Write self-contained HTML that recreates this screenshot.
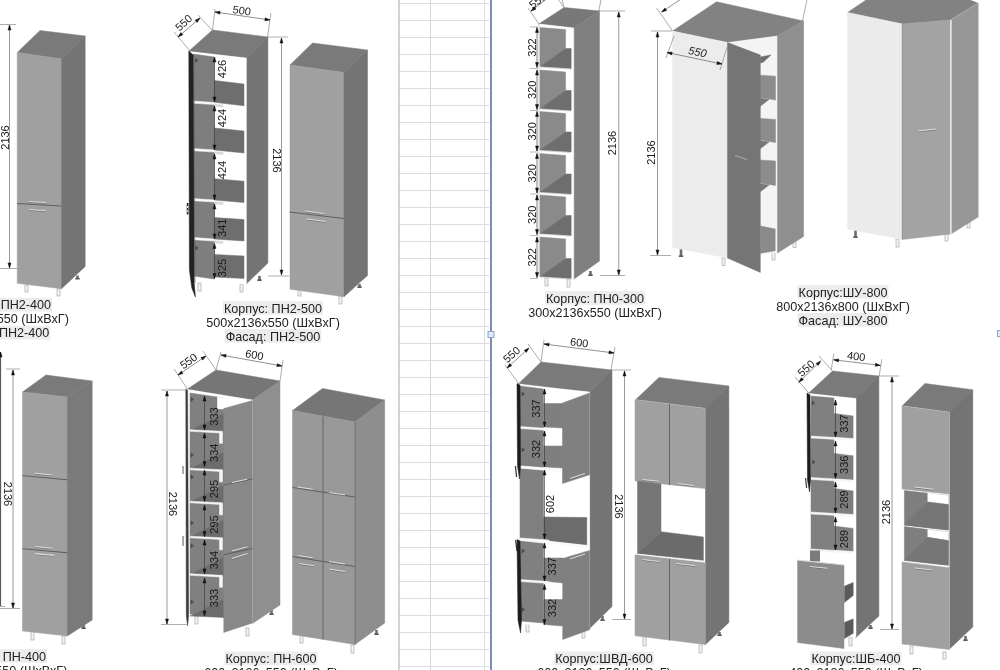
<!DOCTYPE html>
<html lang="ru"><head><meta charset="utf-8"><title>Каталог</title>
<style>
html,body{margin:0;padding:0;background:#fff;}
body{width:1000px;height:670px;overflow:hidden;}
svg{display:block;font-family:"Liberation Sans",sans-serif;filter:blur(0.45px);}
</style></head><body>
<svg width="1000" height="670" viewBox="0 0 1000 670">
<rect x="0" y="0" width="1000" height="670" fill="#ffffff"/>
<line x1="399.00" y1="3.50" x2="489.50" y2="3.50" stroke="#d2d2da" stroke-width="0.80" />
<line x1="399.00" y1="20.50" x2="489.50" y2="20.50" stroke="#d2d2da" stroke-width="0.80" />
<line x1="399.00" y1="37.50" x2="489.50" y2="37.50" stroke="#d2d2da" stroke-width="0.80" />
<line x1="399.00" y1="54.50" x2="489.50" y2="54.50" stroke="#d2d2da" stroke-width="0.80" />
<line x1="399.00" y1="71.50" x2="489.50" y2="71.50" stroke="#d2d2da" stroke-width="0.80" />
<line x1="399.00" y1="88.50" x2="489.50" y2="88.50" stroke="#d2d2da" stroke-width="0.80" />
<line x1="399.00" y1="105.50" x2="489.50" y2="105.50" stroke="#d2d2da" stroke-width="0.80" />
<line x1="399.00" y1="122.50" x2="489.50" y2="122.50" stroke="#d2d2da" stroke-width="0.80" />
<line x1="399.00" y1="139.50" x2="489.50" y2="139.50" stroke="#d2d2da" stroke-width="0.80" />
<line x1="399.00" y1="156.50" x2="489.50" y2="156.50" stroke="#d2d2da" stroke-width="0.80" />
<line x1="399.00" y1="173.50" x2="489.50" y2="173.50" stroke="#d2d2da" stroke-width="0.80" />
<line x1="399.00" y1="190.50" x2="489.50" y2="190.50" stroke="#d2d2da" stroke-width="0.80" />
<line x1="399.00" y1="207.50" x2="489.50" y2="207.50" stroke="#d2d2da" stroke-width="0.80" />
<line x1="399.00" y1="224.50" x2="489.50" y2="224.50" stroke="#d2d2da" stroke-width="0.80" />
<line x1="399.00" y1="241.50" x2="489.50" y2="241.50" stroke="#d2d2da" stroke-width="0.80" />
<line x1="399.00" y1="258.50" x2="489.50" y2="258.50" stroke="#d2d2da" stroke-width="0.80" />
<line x1="399.00" y1="275.50" x2="489.50" y2="275.50" stroke="#d2d2da" stroke-width="0.80" />
<line x1="399.00" y1="292.50" x2="489.50" y2="292.50" stroke="#d2d2da" stroke-width="0.80" />
<line x1="399.00" y1="309.50" x2="489.50" y2="309.50" stroke="#d2d2da" stroke-width="0.80" />
<line x1="399.00" y1="326.50" x2="489.50" y2="326.50" stroke="#d2d2da" stroke-width="0.80" />
<line x1="399.00" y1="343.50" x2="489.50" y2="343.50" stroke="#d2d2da" stroke-width="0.80" />
<line x1="399.00" y1="360.50" x2="489.50" y2="360.50" stroke="#d2d2da" stroke-width="0.80" />
<line x1="399.00" y1="377.50" x2="489.50" y2="377.50" stroke="#d2d2da" stroke-width="0.80" />
<line x1="399.00" y1="394.50" x2="489.50" y2="394.50" stroke="#d2d2da" stroke-width="0.80" />
<line x1="399.00" y1="411.50" x2="489.50" y2="411.50" stroke="#d2d2da" stroke-width="0.80" />
<line x1="399.00" y1="428.50" x2="489.50" y2="428.50" stroke="#d2d2da" stroke-width="0.80" />
<line x1="399.00" y1="445.50" x2="489.50" y2="445.50" stroke="#d2d2da" stroke-width="0.80" />
<line x1="399.00" y1="462.50" x2="489.50" y2="462.50" stroke="#d2d2da" stroke-width="0.80" />
<line x1="399.00" y1="479.50" x2="489.50" y2="479.50" stroke="#d2d2da" stroke-width="0.80" />
<line x1="399.00" y1="496.50" x2="489.50" y2="496.50" stroke="#d2d2da" stroke-width="0.80" />
<line x1="399.00" y1="513.50" x2="489.50" y2="513.50" stroke="#d2d2da" stroke-width="0.80" />
<line x1="399.00" y1="530.50" x2="489.50" y2="530.50" stroke="#d2d2da" stroke-width="0.80" />
<line x1="399.00" y1="547.50" x2="489.50" y2="547.50" stroke="#d2d2da" stroke-width="0.80" />
<line x1="399.00" y1="564.50" x2="489.50" y2="564.50" stroke="#d2d2da" stroke-width="0.80" />
<line x1="399.00" y1="581.50" x2="489.50" y2="581.50" stroke="#d2d2da" stroke-width="0.80" />
<line x1="399.00" y1="598.50" x2="489.50" y2="598.50" stroke="#d2d2da" stroke-width="0.80" />
<line x1="399.00" y1="615.50" x2="489.50" y2="615.50" stroke="#d2d2da" stroke-width="0.80" />
<line x1="399.00" y1="632.50" x2="489.50" y2="632.50" stroke="#d2d2da" stroke-width="0.80" />
<line x1="399.00" y1="649.50" x2="489.50" y2="649.50" stroke="#d2d2da" stroke-width="0.80" />
<line x1="399.00" y1="666.50" x2="489.50" y2="666.50" stroke="#d2d2da" stroke-width="0.80" />
<line x1="430.50" y1="0.00" x2="430.50" y2="670.00" stroke="#d6d6de" stroke-width="1.00" />
<line x1="484.50" y1="0.00" x2="484.50" y2="670.00" stroke="#dcdce4" stroke-width="1.00" />
<line x1="399.00" y1="0.00" x2="399.00" y2="670.00" stroke="#b0b0b0" stroke-width="1.10" />
<line x1="491.00" y1="0.00" x2="491.00" y2="670.00" stroke="#6e82ab" stroke-width="1.80" />
<rect x="488.00" y="331.50" width="6.00" height="6.00" fill="#dcecfa" stroke="#8aa4c8" stroke-width="1"/>
<rect x="997.50" y="330.50" width="6.00" height="6.00" fill="#dcecfa" stroke="#8aa4c8" stroke-width="1"/>
<rect x="76.20" y="275.50" width="2.60" height="3.00" fill="#6e6e6e" />
<rect x="75.30" y="277.90" width="4.40" height="1.60" fill="#5a5a5a" />
<rect x="25.00" y="285.00" width="3.00" height="7.00" fill="#f4f4f4" stroke="#9a9a9a" stroke-width="0.6"/>
<rect x="57.00" y="289.00" width="3.00" height="7.00" fill="#f4f4f4" stroke="#9a9a9a" stroke-width="0.6"/>
<polygon points="17.20,52.50 40.00,30.50 85.20,36.00 61.50,59.00" fill="#7a7a7a"  stroke="#7a7a7a" stroke-width="0.5"/>
<polygon points="17.20,52.50 61.50,59.00 61.50,288.70 17.20,283.30" fill="#a0a0a0"  stroke="#a0a0a0" stroke-width="0.5"/>
<polygon points="61.50,59.00 85.20,36.00 85.20,266.50 61.50,288.70" fill="#737473"  stroke="#737473" stroke-width="0.5"/>
<line x1="17.00" y1="203.50" x2="61.00" y2="206.00" stroke="#5e5e5e" stroke-width="1.00" />
<line x1="29.00" y1="202.30" x2="46.00" y2="203.30" stroke="#6a6a6a" stroke-width="0.80" />
<line x1="29.00" y1="201.50" x2="46.00" y2="202.50" stroke="#dcdcdc" stroke-width="1.10" />
<line x1="29.00" y1="210.30" x2="46.00" y2="211.60" stroke="#6a6a6a" stroke-width="0.80" />
<line x1="29.00" y1="209.50" x2="46.00" y2="210.80" stroke="#dcdcdc" stroke-width="1.10" />
<line x1="0.00" y1="24.50" x2="16.00" y2="24.50" stroke="#8a8a8a" stroke-width="0.70" />
<line x1="0.00" y1="268.50" x2="17.00" y2="268.50" stroke="#8a8a8a" stroke-width="0.70" />
<line x1="9.50" y1="25.00" x2="9.50" y2="268.00" stroke="#8e8e8e" stroke-width="0.90" />
<polygon points="9.50,268.00 8.00,263.00 11.00,263.00" fill="#111"  stroke="#111" stroke-width="0.5"/>
<polygon points="9.50,25.00 11.00,30.00 8.00,30.00" fill="#111"  stroke="#111" stroke-width="0.5"/>
<text x="8.94" y="137.50" font-size="11" text-anchor="middle" fill="#1a1a1a" transform="rotate(-90.0 8.94 137.50)" >2136</text>
<rect x="198.00" y="283.00" width="3.00" height="8.00" fill="#f4f4f4" stroke="#9a9a9a" stroke-width="0.6"/>
<rect x="240.00" y="284.00" width="3.00" height="8.00" fill="#f4f4f4" stroke="#9a9a9a" stroke-width="0.6"/>
<rect x="258.20" y="276.00" width="2.60" height="4.00" fill="#6e6e6e" />
<rect x="257.30" y="279.40" width="4.40" height="1.60" fill="#5a5a5a" />
<polygon points="189.00,51.00 212.50,30.00 267.90,37.00 246.30,58.00" fill="#7a7a7a"  stroke="#7a7a7a" stroke-width="0.5"/>
<polygon points="246.30,58.00 267.90,37.00 267.90,263.00 246.30,284.00" fill="#737473"  stroke="#737473" stroke-width="0.5"/>
<polygon points="191.00,52.00 246.30,58.00 246.30,284.00 191.00,280.00" fill="#ffffff"  stroke="#ffffff" stroke-width="0.5"/>
<polygon points="193.00,54.00 214.30,57.00 214.30,279.00 193.00,276.00" fill="#7e7e7e"  stroke="#7e7e7e" stroke-width="0.5"/>
<polygon points="214.30,80.50 244.00,84.00 244.00,105.80 214.30,102.30" fill="#6e6e6e"  stroke="#6e6e6e" stroke-width="0.5"/>
<polygon points="214.30,128.00 244.00,131.00 244.00,153.00 214.30,150.00" fill="#6e6e6e"  stroke="#6e6e6e" stroke-width="0.5"/>
<polygon points="214.30,178.70 244.00,181.20 244.00,202.50 214.30,200.00" fill="#6e6e6e"  stroke="#6e6e6e" stroke-width="0.5"/>
<polygon points="214.30,217.50 244.00,219.50 244.00,241.00 214.30,239.00" fill="#6e6e6e"  stroke="#6e6e6e" stroke-width="0.5"/>
<polygon points="214.30,254.50 244.00,256.00 244.00,278.50 214.30,277.00" fill="#6e6e6e"  stroke="#6e6e6e" stroke-width="0.5"/>
<polygon points="193.00,101.00 214.50,102.50 214.50,104.60 193.00,103.20" fill="#fafafa"  stroke="#fafafa" stroke-width="0.5"/>
<polygon points="215.00,104.20 223.00,104.80 223.00,107.00 215.00,106.40" fill="#d8d8d8"  stroke="#d8d8d8" stroke-width="0.5"/>
<polygon points="193.00,148.50 214.50,150.00 214.50,152.10 193.00,150.70" fill="#fafafa"  stroke="#fafafa" stroke-width="0.5"/>
<polygon points="215.00,151.70 223.00,152.30 223.00,154.50 215.00,153.90" fill="#d8d8d8"  stroke="#d8d8d8" stroke-width="0.5"/>
<polygon points="193.00,198.50 214.50,200.00 214.50,202.10 193.00,200.70" fill="#fafafa"  stroke="#fafafa" stroke-width="0.5"/>
<polygon points="215.00,201.70 223.00,202.30 223.00,204.50 215.00,203.90" fill="#d8d8d8"  stroke="#d8d8d8" stroke-width="0.5"/>
<polygon points="193.00,237.50 214.50,239.00 214.50,241.10 193.00,239.70" fill="#fafafa"  stroke="#fafafa" stroke-width="0.5"/>
<polygon points="215.00,240.70 223.00,241.30 223.00,243.50 215.00,242.90" fill="#d8d8d8"  stroke="#d8d8d8" stroke-width="0.5"/>
<polygon points="188.80,51.00 193.20,55.00 194.20,283.00 195.40,297.00 191.80,288.00 189.40,270.00" fill="#222222"  stroke="#222222" stroke-width="0.5"/>
<line x1="194.00" y1="56.00" x2="194.90" y2="283.00" stroke="#6a6a6a" stroke-width="0.80" />
<line x1="214.50" y1="57.00" x2="214.50" y2="102.00" stroke="#3a3a3a" stroke-width="0.65" />
<polygon points="214.50,102.00 213.00,97.00 216.00,97.00" fill="#111"  stroke="#111" stroke-width="0.5"/>
<polygon points="214.50,57.00 216.00,62.00 213.00,62.00" fill="#111"  stroke="#111" stroke-width="0.5"/>
<text x="226.44" y="69.00" font-size="11" text-anchor="middle" fill="#1a1a1a" transform="rotate(-90.0 226.44 69.00)" >426</text>
<line x1="214.50" y1="106.00" x2="214.50" y2="150.00" stroke="#3a3a3a" stroke-width="0.65" />
<polygon points="214.50,150.00 213.00,145.00 216.00,145.00" fill="#111"  stroke="#111" stroke-width="0.5"/>
<polygon points="214.50,106.00 216.00,111.00 213.00,111.00" fill="#111"  stroke="#111" stroke-width="0.5"/>
<text x="226.44" y="118.00" font-size="11" text-anchor="middle" fill="#1a1a1a" transform="rotate(-90.0 226.44 118.00)" >424</text>
<line x1="214.50" y1="154.00" x2="214.50" y2="200.00" stroke="#3a3a3a" stroke-width="0.65" />
<polygon points="214.50,200.00 213.00,195.00 216.00,195.00" fill="#111"  stroke="#111" stroke-width="0.5"/>
<polygon points="214.50,154.00 216.00,159.00 213.00,159.00" fill="#111"  stroke="#111" stroke-width="0.5"/>
<text x="226.44" y="170.00" font-size="11" text-anchor="middle" fill="#1a1a1a" transform="rotate(-90.0 226.44 170.00)" >424</text>
<line x1="214.50" y1="204.00" x2="214.50" y2="239.00" stroke="#3a3a3a" stroke-width="0.65" />
<polygon points="214.50,239.00 213.00,234.00 216.00,234.00" fill="#111"  stroke="#111" stroke-width="0.5"/>
<polygon points="214.50,204.00 216.00,209.00 213.00,209.00" fill="#111"  stroke="#111" stroke-width="0.5"/>
<text x="226.44" y="227.70" font-size="11" text-anchor="middle" fill="#1a1a1a" transform="rotate(-90.0 226.44 227.70)" >341</text>
<line x1="214.50" y1="243.50" x2="214.50" y2="278.50" stroke="#3a3a3a" stroke-width="0.65" />
<polygon points="214.50,278.50 213.00,273.50 216.00,273.50" fill="#111"  stroke="#111" stroke-width="0.5"/>
<polygon points="214.50,243.50 216.00,248.50 213.00,248.50" fill="#111"  stroke="#111" stroke-width="0.5"/>
<text x="226.44" y="268.00" font-size="11" text-anchor="middle" fill="#1a1a1a" transform="rotate(-90.0 226.44 268.00)" >325</text>
<polygon points="195.50,58.42 198.10,60.50 195.50,62.58" fill="#4a4a4a"  stroke="#4a4a4a" stroke-width="0.5"/>
<polygon points="195.50,245.92 198.10,248.00 195.50,250.08" fill="#4a4a4a"  stroke="#4a4a4a" stroke-width="0.5"/>
<line x1="187.60" y1="203.00" x2="187.60" y2="214.50" stroke="#2a2a2a" stroke-width="1.70" />
<line x1="187.60" y1="206.00" x2="187.60" y2="208.00" stroke="#eee" stroke-width="1.20" />
<line x1="187.60" y1="210.50" x2="187.60" y2="212.00" stroke="#eee" stroke-width="1.20" />
<line x1="268.00" y1="37.00" x2="288.00" y2="37.00" stroke="#8a8a8a" stroke-width="0.70" />
<line x1="268.00" y1="276.00" x2="289.00" y2="276.00" stroke="#8a8a8a" stroke-width="0.70" />
<line x1="281.50" y1="38.00" x2="281.50" y2="275.00" stroke="#8e8e8e" stroke-width="0.90" />
<polygon points="281.50,275.00 280.00,270.00 283.00,270.00" fill="#111"  stroke="#111" stroke-width="0.5"/>
<polygon points="281.50,38.00 283.00,43.00 280.00,43.00" fill="#111"  stroke="#111" stroke-width="0.5"/>
<text x="273.06" y="160.50" font-size="11" text-anchor="middle" fill="#1a1a1a" transform="rotate(90.0 273.06 160.50)" >2136</text>
<line x1="174.00" y1="32.00" x2="190.00" y2="51.00" stroke="#8a8a8a" stroke-width="0.70" />
<line x1="198.00" y1="15.00" x2="212.00" y2="30.00" stroke="#8a8a8a" stroke-width="0.70" />
<line x1="178.00" y1="37.00" x2="200.00" y2="18.00" stroke="#606060" stroke-width="0.70" />
<polygon points="200.00,18.00 197.20,22.40 195.24,20.13" fill="#111"  stroke="#111" stroke-width="0.5"/>
<polygon points="178.00,37.00 180.80,32.60 182.76,34.87" fill="#111"  stroke="#111" stroke-width="0.5"/>
<text x="186.34" y="25.63" font-size="11" text-anchor="middle" fill="#1a1a1a" transform="rotate(-42.0 186.34 25.63)" >550</text>
<line x1="212.50" y1="30.00" x2="215.00" y2="9.00" stroke="#8a8a8a" stroke-width="0.70" />
<line x1="267.50" y1="37.00" x2="271.00" y2="13.00" stroke="#8a8a8a" stroke-width="0.70" />
<line x1="215.00" y1="12.00" x2="270.00" y2="20.00" stroke="#606060" stroke-width="0.70" />
<polygon points="270.00,20.00 264.84,20.76 265.27,17.80" fill="#111"  stroke="#111" stroke-width="0.5"/>
<polygon points="215.00,12.00 220.16,11.24 219.73,14.20" fill="#111"  stroke="#111" stroke-width="0.5"/>
<text x="241.35" y="14.40" font-size="11" text-anchor="middle" fill="#1a1a1a" transform="rotate(8.0 241.35 14.40)" >500</text>
<rect x="298.00" y="288.00" width="3.00" height="8.00" fill="#f4f4f4" stroke="#9a9a9a" stroke-width="0.6"/>
<rect x="339.00" y="296.00" width="3.00" height="8.00" fill="#f4f4f4" stroke="#9a9a9a" stroke-width="0.6"/>
<rect x="358.20" y="284.00" width="2.60" height="3.00" fill="#6e6e6e" />
<rect x="357.30" y="286.40" width="4.40" height="1.60" fill="#5a5a5a" />
<polygon points="290.00,65.00 312.50,43.00 367.50,50.00 344.00,72.50" fill="#7a7a7a"  stroke="#7a7a7a" stroke-width="0.5"/>
<polygon points="290.00,65.00 344.00,72.50 344.00,296.80 290.00,289.20" fill="#a0a0a0"  stroke="#a0a0a0" stroke-width="0.5"/>
<polygon points="344.00,72.50 367.50,50.00 367.50,275.50 344.00,296.80" fill="#737473"  stroke="#737473" stroke-width="0.5"/>
<line x1="289.50" y1="212.00" x2="343.75" y2="218.50" stroke="#5e5e5e" stroke-width="1.00" />
<line x1="305.00" y1="211.80" x2="324.00" y2="214.30" stroke="#6a6a6a" stroke-width="0.80" />
<line x1="305.00" y1="211.00" x2="324.00" y2="213.50" stroke="#dcdcdc" stroke-width="1.10" />
<line x1="307.00" y1="219.80" x2="326.00" y2="222.30" stroke="#6a6a6a" stroke-width="0.80" />
<line x1="307.00" y1="219.00" x2="326.00" y2="221.50" stroke="#dcdcdc" stroke-width="1.10" />
<rect x="-48.01" y="297.90" width="100.01" height="13.60" fill="#ececec" />
<rect x="-46.31" y="325.90" width="96.62" height="13.60" fill="#ececec" />
<text x="2.00" y="309.30" font-size="12.6" text-anchor="middle" fill="#222" >Корпус: ПН2-400</text>
<text x="2.00" y="323.30" font-size="12.6" text-anchor="middle" fill="#222" >400x2136x550 (ШхВхГ)</text>
<text x="2.00" y="337.30" font-size="12.6" text-anchor="middle" fill="#222" >Фасад: ПН2-400</text>
<rect x="222.99" y="301.10" width="100.01" height="13.60" fill="#ececec" />
<rect x="224.69" y="329.10" width="96.62" height="13.60" fill="#ececec" />
<text x="273.00" y="312.50" font-size="12.6" text-anchor="middle" fill="#222" >Корпус: ПН2-500</text>
<text x="273.00" y="326.50" font-size="12.6" text-anchor="middle" fill="#222" >500x2136x550 (ШхВхГ)</text>
<text x="273.00" y="340.50" font-size="12.6" text-anchor="middle" fill="#222" >Фасад: ПН2-500</text>
<rect x="545.00" y="278.00" width="3.00" height="8.00" fill="#f4f4f4" stroke="#9a9a9a" stroke-width="0.6"/>
<rect x="567.00" y="279.00" width="3.00" height="8.00" fill="#f4f4f4" stroke="#9a9a9a" stroke-width="0.6"/>
<rect x="589.20" y="271.00" width="2.60" height="4.00" fill="#6e6e6e" />
<rect x="588.30" y="274.40" width="4.40" height="1.60" fill="#5a5a5a" />
<polygon points="538.75,24.00 564.00,7.50 599.50,11.00 573.75,28.00" fill="#787878"  stroke="#787878" stroke-width="0.5"/>
<polygon points="573.75,28.00 599.50,11.00 599.50,261.00 573.75,279.20" fill="#808080"  stroke="#808080" stroke-width="0.5"/>
<polygon points="538.75,24.00 573.75,28.00 573.75,279.00 538.75,277.00" fill="#ffffff"  stroke="#ffffff" stroke-width="0.5"/>
<line x1="539.00" y1="24.00" x2="539.00" y2="277.00" stroke="#bbb" stroke-width="0.60" />
<polygon points="540.00,27.50 565.60,29.50 565.60,48.50 540.00,66.50" fill="#8a8a8a"  stroke="#8a8a8a" stroke-width="0.5"/>
<polygon points="540.00,66.50 565.60,48.50 571.20,48.50 571.20,68.50 540.00,66.50" fill="#6e6e6e"  stroke="#6e6e6e" stroke-width="0.5"/>
<line x1="540.00" y1="67.10" x2="571.00" y2="69.10" stroke="#c8c8c8" stroke-width="0.60" />
<polygon points="540.00,70.00 565.60,72.00 565.60,90.50 540.00,108.50" fill="#8a8a8a"  stroke="#8a8a8a" stroke-width="0.5"/>
<polygon points="540.00,108.50 565.60,90.50 571.20,90.50 571.20,110.50 540.00,108.50" fill="#6e6e6e"  stroke="#6e6e6e" stroke-width="0.5"/>
<line x1="540.00" y1="109.10" x2="571.00" y2="111.10" stroke="#c8c8c8" stroke-width="0.60" />
<polygon points="540.00,111.50 565.60,113.50 565.60,132.00 540.00,150.00" fill="#8a8a8a"  stroke="#8a8a8a" stroke-width="0.5"/>
<polygon points="540.00,150.00 565.60,132.00 571.20,132.00 571.20,152.00 540.00,150.00" fill="#6e6e6e"  stroke="#6e6e6e" stroke-width="0.5"/>
<line x1="540.00" y1="150.60" x2="571.00" y2="152.60" stroke="#c8c8c8" stroke-width="0.60" />
<polygon points="540.00,153.50 565.60,155.50 565.60,174.00 540.00,192.00" fill="#8a8a8a"  stroke="#8a8a8a" stroke-width="0.5"/>
<polygon points="540.00,192.00 565.60,174.00 571.20,174.00 571.20,194.00 540.00,192.00" fill="#6e6e6e"  stroke="#6e6e6e" stroke-width="0.5"/>
<line x1="540.00" y1="192.60" x2="571.00" y2="194.60" stroke="#c8c8c8" stroke-width="0.60" />
<polygon points="540.00,195.00 565.60,197.00 565.60,215.50 540.00,233.50" fill="#8a8a8a"  stroke="#8a8a8a" stroke-width="0.5"/>
<polygon points="540.00,233.50 565.60,215.50 571.20,215.50 571.20,235.50 540.00,233.50" fill="#6e6e6e"  stroke="#6e6e6e" stroke-width="0.5"/>
<line x1="540.00" y1="234.10" x2="571.00" y2="236.10" stroke="#c8c8c8" stroke-width="0.60" />
<polygon points="540.00,237.00 565.60,239.00 565.60,258.50 540.00,276.50" fill="#8a8a8a"  stroke="#8a8a8a" stroke-width="0.5"/>
<polygon points="540.00,276.50 565.60,258.50 571.20,258.50 571.20,278.50 540.00,276.50" fill="#6e6e6e"  stroke="#6e6e6e" stroke-width="0.5"/>
<line x1="540.00" y1="277.10" x2="571.00" y2="279.10" stroke="#c8c8c8" stroke-width="0.60" />
<line x1="573.50" y1="28.00" x2="573.50" y2="279.00" stroke="#ddd" stroke-width="0.60" />
<line x1="537.00" y1="27.50" x2="537.00" y2="67.50" stroke="#3a3a3a" stroke-width="0.65" />
<polygon points="537.00,67.50 535.50,62.50 538.50,62.50" fill="#111"  stroke="#111" stroke-width="0.5"/>
<polygon points="537.00,27.50 538.50,32.50 535.50,32.50" fill="#111"  stroke="#111" stroke-width="0.5"/>
<text x="535.84" y="47.50" font-size="11" text-anchor="middle" fill="#1a1a1a" transform="rotate(-90.0 535.84 47.50)" >322</text>
<line x1="530.00" y1="68.50" x2="538.00" y2="68.50" stroke="#777" stroke-width="0.50" />
<line x1="537.00" y1="70.00" x2="537.00" y2="109.50" stroke="#3a3a3a" stroke-width="0.65" />
<polygon points="537.00,109.50 535.50,104.50 538.50,104.50" fill="#111"  stroke="#111" stroke-width="0.5"/>
<polygon points="537.00,70.00 538.50,75.00 535.50,75.00" fill="#111"  stroke="#111" stroke-width="0.5"/>
<text x="535.84" y="89.75" font-size="11" text-anchor="middle" fill="#1a1a1a" transform="rotate(-90.0 535.84 89.75)" >320</text>
<line x1="530.00" y1="110.50" x2="538.00" y2="110.50" stroke="#777" stroke-width="0.50" />
<line x1="537.00" y1="111.50" x2="537.00" y2="151.00" stroke="#3a3a3a" stroke-width="0.65" />
<polygon points="537.00,151.00 535.50,146.00 538.50,146.00" fill="#111"  stroke="#111" stroke-width="0.5"/>
<polygon points="537.00,111.50 538.50,116.50 535.50,116.50" fill="#111"  stroke="#111" stroke-width="0.5"/>
<text x="535.84" y="131.25" font-size="11" text-anchor="middle" fill="#1a1a1a" transform="rotate(-90.0 535.84 131.25)" >320</text>
<line x1="530.00" y1="152.00" x2="538.00" y2="152.00" stroke="#777" stroke-width="0.50" />
<line x1="537.00" y1="153.50" x2="537.00" y2="193.00" stroke="#3a3a3a" stroke-width="0.65" />
<polygon points="537.00,193.00 535.50,188.00 538.50,188.00" fill="#111"  stroke="#111" stroke-width="0.5"/>
<polygon points="537.00,153.50 538.50,158.50 535.50,158.50" fill="#111"  stroke="#111" stroke-width="0.5"/>
<text x="535.84" y="173.25" font-size="11" text-anchor="middle" fill="#1a1a1a" transform="rotate(-90.0 535.84 173.25)" >320</text>
<line x1="530.00" y1="194.00" x2="538.00" y2="194.00" stroke="#777" stroke-width="0.50" />
<line x1="537.00" y1="195.00" x2="537.00" y2="234.50" stroke="#3a3a3a" stroke-width="0.65" />
<polygon points="537.00,234.50 535.50,229.50 538.50,229.50" fill="#111"  stroke="#111" stroke-width="0.5"/>
<polygon points="537.00,195.00 538.50,200.00 535.50,200.00" fill="#111"  stroke="#111" stroke-width="0.5"/>
<text x="535.84" y="214.75" font-size="11" text-anchor="middle" fill="#1a1a1a" transform="rotate(-90.0 535.84 214.75)" >320</text>
<line x1="530.00" y1="235.50" x2="538.00" y2="235.50" stroke="#777" stroke-width="0.50" />
<line x1="537.00" y1="237.00" x2="537.00" y2="277.50" stroke="#3a3a3a" stroke-width="0.65" />
<polygon points="537.00,277.50 535.50,272.50 538.50,272.50" fill="#111"  stroke="#111" stroke-width="0.5"/>
<polygon points="537.00,237.00 538.50,242.00 535.50,242.00" fill="#111"  stroke="#111" stroke-width="0.5"/>
<text x="535.84" y="257.25" font-size="11" text-anchor="middle" fill="#1a1a1a" transform="rotate(-90.0 535.84 257.25)" >322</text>
<line x1="530.00" y1="278.50" x2="538.00" y2="278.50" stroke="#777" stroke-width="0.50" />
<line x1="530.00" y1="27.00" x2="538.00" y2="27.00" stroke="#777" stroke-width="0.50" />
<line x1="598.00" y1="11.00" x2="625.00" y2="11.00" stroke="#8a8a8a" stroke-width="0.70" />
<line x1="600.00" y1="275.50" x2="625.00" y2="275.50" stroke="#8a8a8a" stroke-width="0.70" />
<line x1="618.75" y1="12.00" x2="618.75" y2="275.00" stroke="#8e8e8e" stroke-width="0.90" />
<polygon points="618.75,275.00 617.25,270.00 620.25,270.00" fill="#111"  stroke="#111" stroke-width="0.5"/>
<polygon points="618.75,12.00 620.25,17.00 617.25,17.00" fill="#111"  stroke="#111" stroke-width="0.5"/>
<text x="616.44" y="143.00" font-size="11" text-anchor="middle" fill="#1a1a1a" transform="rotate(-90.0 616.44 143.00)" >2136</text>
<line x1="528.00" y1="8.00" x2="539.00" y2="24.00" stroke="#8a8a8a" stroke-width="0.70" />
<line x1="553.00" y1="-8.00" x2="564.00" y2="7.50" stroke="#8a8a8a" stroke-width="0.70" />
<line x1="531.00" y1="11.00" x2="556.00" y2="-8.00" stroke="#606060" stroke-width="0.70" />
<polygon points="556.00,-8.00 552.93,-3.78 551.11,-6.17" fill="#111"  stroke="#111" stroke-width="0.5"/>
<polygon points="531.00,11.00 534.07,6.78 535.89,9.17" fill="#111"  stroke="#111" stroke-width="0.5"/>
<text x="539.92" y="3.60" font-size="11" text-anchor="middle" fill="#1a1a1a" transform="rotate(-38.0 539.92 3.60)" >550</text>
<line x1="564.00" y1="7.50" x2="560.00" y2="-10.00" stroke="#8a8a8a" stroke-width="0.70" />
<line x1="598.75" y1="11.00" x2="603.00" y2="-10.00" stroke="#8a8a8a" stroke-width="0.70" />
<rect x="544.99" y="291.10" width="100.01" height="13.60" fill="#ececec" />
<text x="595.00" y="302.50" font-size="12.6" text-anchor="middle" fill="#222" >Корпус: ПН0-300</text>
<text x="595.00" y="316.50" font-size="12.6" text-anchor="middle" fill="#222" >300x2136x550 (ШхВхГ)</text>
<rect x="679.70" y="249.00" width="2.60" height="7.00" fill="#6e6e6e" />
<rect x="678.80" y="255.40" width="4.40" height="1.60" fill="#5a5a5a" />
<rect x="722.00" y="258.00" width="3.00" height="7.50" fill="#f4f4f4" stroke="#9a9a9a" stroke-width="0.6"/>
<rect x="772.00" y="253.00" width="3.00" height="7.00" fill="#f4f4f4" stroke="#9a9a9a" stroke-width="0.6"/>
<rect x="793.00" y="241.00" width="3.00" height="6.50" fill="#f4f4f4" stroke="#9a9a9a" stroke-width="0.6"/>
<polygon points="672.50,31.00 716.60,1.80 803.60,21.00 777.50,36.00 730.00,42.50" fill="#828282"  stroke="#828282" stroke-width="0.5"/>
<polygon points="672.50,31.00 728.00,43.00 728.00,258.00 672.50,247.60" fill="#ececec"  stroke="#ececec" stroke-width="0.5"/>
<polygon points="728.00,42.50 777.50,36.00 777.50,252.90 728.00,258.00" fill="#f4f4f4"  stroke="#f4f4f4" stroke-width="0.5"/>
<polygon points="760.00,75.20 775.50,76.20 775.50,100.00 760.00,97.50" fill="#8c8c8c"  stroke="#8c8c8c" stroke-width="0.5"/>
<polygon points="760.00,98.30 769.00,99.50 760.00,106.50" fill="#787878"  stroke="#787878" stroke-width="0.5"/>
<polygon points="760.00,118.40 775.50,119.40 775.50,142.50 760.00,140.00" fill="#8c8c8c"  stroke="#8c8c8c" stroke-width="0.5"/>
<polygon points="760.00,140.80 769.00,142.00 760.00,149.00" fill="#787878"  stroke="#787878" stroke-width="0.5"/>
<polygon points="760.00,160.00 775.50,161.00 775.50,185.50 760.00,183.00" fill="#8c8c8c"  stroke="#8c8c8c" stroke-width="0.5"/>
<polygon points="760.00,183.80 769.00,185.00 760.00,192.00" fill="#787878"  stroke="#787878" stroke-width="0.5"/>
<polygon points="760.30,56.90 771.00,55.00 763.00,62.30 760.30,63.00" fill="#6c6c6c"  stroke="#6c6c6c" stroke-width="0.5"/>
<polygon points="760.50,226.00 775.20,229.00 775.20,250.80 760.50,253.20" fill="#8a8a8a"  stroke="#8a8a8a" stroke-width="0.5"/>
<polygon points="777.50,36.00 803.60,21.00 803.60,236.60 777.50,252.90" fill="#8f8f8f"  stroke="#8f8f8f" stroke-width="0.5"/>
<polygon points="727.50,42.50 760.30,55.00 760.30,272.40 727.50,258.00" fill="#757575"  stroke="#757575" stroke-width="0.5"/>
<line x1="735.00" y1="155.50" x2="747.00" y2="159.50" stroke="#bbb" stroke-width="0.80" />
<line x1="651.00" y1="31.00" x2="672.00" y2="31.00" stroke="#8a8a8a" stroke-width="0.70" />
<line x1="650.00" y1="255.50" x2="671.00" y2="255.50" stroke="#8a8a8a" stroke-width="0.70" />
<line x1="657.50" y1="32.00" x2="657.50" y2="255.00" stroke="#8e8e8e" stroke-width="0.90" />
<polygon points="657.50,255.00 656.00,250.00 659.00,250.00" fill="#111"  stroke="#111" stroke-width="0.5"/>
<polygon points="657.50,32.00 659.00,37.00 656.00,37.00" fill="#111"  stroke="#111" stroke-width="0.5"/>
<text x="654.69" y="152.50" font-size="11" text-anchor="middle" fill="#1a1a1a" transform="rotate(-90.0 654.69 152.50)" >2136</text>
<line x1="674.00" y1="36.00" x2="666.00" y2="58.00" stroke="#8a8a8a" stroke-width="0.70" />
<line x1="727.00" y1="47.00" x2="720.00" y2="70.00" stroke="#8a8a8a" stroke-width="0.70" />
<line x1="667.00" y1="52.50" x2="722.00" y2="64.00" stroke="#606060" stroke-width="0.70" />
<polygon points="722.00,64.00 716.80,64.44 717.41,61.51" fill="#111"  stroke="#111" stroke-width="0.5"/>
<polygon points="667.00,52.50 672.20,52.06 671.59,54.99" fill="#111"  stroke="#111" stroke-width="0.5"/>
<text x="696.68" y="55.60" font-size="11" text-anchor="middle" fill="#1a1a1a" transform="rotate(12.0 696.68 55.60)" font-style="italic">550</text>
<line x1="672.40" y1="30.60" x2="656.50" y2="8.00" stroke="#8a8a8a" stroke-width="0.70" />
<line x1="661.60" y1="12.00" x2="694.00" y2="-9.60" stroke="#606060" stroke-width="0.70" />
<polygon points="694.00,-9.60 690.67,-5.58 689.01,-8.07" fill="#111"  stroke="#111" stroke-width="0.5"/>
<polygon points="661.60,12.00 664.93,7.98 666.59,10.47" fill="#111"  stroke="#111" stroke-width="0.5"/>
<line x1="802.50" y1="21.00" x2="808.00" y2="-5.00" stroke="#8a8a8a" stroke-width="0.70" />
<rect x="854.20" y="230.00" width="2.60" height="7.00" fill="#6e6e6e" />
<rect x="853.30" y="236.40" width="4.40" height="1.60" fill="#5a5a5a" />
<rect x="896.00" y="239.00" width="3.00" height="8.00" fill="#f4f4f4" stroke="#9a9a9a" stroke-width="0.6"/>
<rect x="945.00" y="234.00" width="3.00" height="7.00" fill="#f4f4f4" stroke="#9a9a9a" stroke-width="0.6"/>
<rect x="967.00" y="222.00" width="3.00" height="6.00" fill="#f4f4f4" stroke="#9a9a9a" stroke-width="0.6"/>
<polygon points="847.50,12.50 866.00,0.00 970.00,0.00 977.50,3.00 950.00,20.00 902.50,24.00" fill="#828282"  stroke="#828282" stroke-width="0.5"/>
<polygon points="847.50,12.50 902.50,24.00 902.50,239.50 847.50,229.00" fill="#ebebeb"  stroke="#ebebeb" stroke-width="0.5"/>
<polygon points="902.20,24.00 951.00,20.00 951.00,234.00 902.20,239.50" fill="#a3a3a3"  stroke="#a3a3a3" stroke-width="0.5"/>
<polygon points="951.00,20.00 978.20,3.00 978.20,217.00 951.00,234.00" fill="#979797"  stroke="#979797" stroke-width="0.5"/>
<line x1="950.90" y1="20.00" x2="950.90" y2="234.00" stroke="#e8e8e8" stroke-width="1.60" />
<line x1="902.40" y1="24.00" x2="902.40" y2="239.50" stroke="#8e8e8e" stroke-width="0.80" />
<line x1="918.40" y1="131.80" x2="935.80" y2="129.80" stroke="#6a6a6a" stroke-width="0.80" />
<line x1="918.40" y1="131.00" x2="935.80" y2="129.00" stroke="#dcdcdc" stroke-width="1.10" />
<rect x="797.55" y="285.10" width="90.90" height="13.60" fill="#ececec" />
<rect x="797.49" y="313.10" width="91.02" height="13.60" fill="#ececec" />
<text x="843.00" y="296.50" font-size="12.6" text-anchor="middle" fill="#222" >Корпус:ШУ-800</text>
<text x="843.00" y="310.50" font-size="12.6" text-anchor="middle" fill="#222" >800x2136x800 (ШхВхГ)</text>
<text x="843.00" y="324.50" font-size="12.6" text-anchor="middle" fill="#222" >Фасад: ШУ-800</text>
<rect x="31.00" y="631.00" width="3.00" height="9.00" fill="#f4f4f4" stroke="#9a9a9a" stroke-width="0.6"/>
<rect x="62.00" y="636.00" width="3.00" height="8.00" fill="#f4f4f4" stroke="#9a9a9a" stroke-width="0.6"/>
<rect x="82.20" y="624.00" width="2.60" height="4.00" fill="#6e6e6e" />
<rect x="81.30" y="627.40" width="4.40" height="1.60" fill="#5a5a5a" />
<polygon points="22.50,392.00 46.00,375.00 92.20,381.00 67.30,397.00" fill="#7a7a7a"  stroke="#7a7a7a" stroke-width="0.5"/>
<polygon points="22.50,392.00 67.30,397.00 67.30,636.00 22.50,631.00" fill="#a0a0a0"  stroke="#a0a0a0" stroke-width="0.5"/>
<polygon points="67.30,397.00 92.20,381.00 92.20,620.00 67.30,636.00" fill="#7a7a7a"  stroke="#7a7a7a" stroke-width="0.5"/>
<line x1="22.50" y1="475.60" x2="67.50" y2="479.80" stroke="#5e5e5e" stroke-width="1.00" />
<line x1="22.50" y1="548.70" x2="67.50" y2="552.80" stroke="#5e5e5e" stroke-width="1.00" />
<line x1="35.00" y1="474.10" x2="52.50" y2="475.80" stroke="#6a6a6a" stroke-width="0.80" />
<line x1="35.00" y1="473.30" x2="52.50" y2="475.00" stroke="#dcdcdc" stroke-width="1.10" />
<line x1="35.00" y1="547.30" x2="52.50" y2="549.00" stroke="#6a6a6a" stroke-width="0.80" />
<line x1="35.00" y1="546.50" x2="52.50" y2="548.20" stroke="#dcdcdc" stroke-width="1.10" />
<line x1="35.00" y1="554.40" x2="54.00" y2="556.20" stroke="#6a6a6a" stroke-width="0.80" />
<line x1="35.00" y1="553.60" x2="54.00" y2="555.40" stroke="#dcdcdc" stroke-width="1.10" />
<line x1="0.60" y1="352.00" x2="0.60" y2="606.00" stroke="#333" stroke-width="0.90" />
<polygon points="0.60,352.00 2.10,357.00 -0.90,357.00" fill="#111"  stroke="#111" stroke-width="0.5"/>
<line x1="0.00" y1="606.50" x2="5.00" y2="606.50" stroke="#8a8a8a" stroke-width="0.70" />
<line x1="6.00" y1="369.00" x2="20.00" y2="369.00" stroke="#8a8a8a" stroke-width="0.70" />
<line x1="0.00" y1="608.50" x2="20.00" y2="608.50" stroke="#8a8a8a" stroke-width="0.70" />
<line x1="13.00" y1="370.00" x2="13.00" y2="608.00" stroke="#8e8e8e" stroke-width="0.90" />
<polygon points="13.00,608.00 11.50,603.00 14.50,603.00" fill="#111"  stroke="#111" stroke-width="0.5"/>
<polygon points="13.00,370.00 14.50,375.00 11.50,375.00" fill="#111"  stroke="#111" stroke-width="0.5"/>
<text x="4.06" y="494.00" font-size="11" text-anchor="middle" fill="#1a1a1a" transform="rotate(90.0 4.06 494.00)" >2136</text>
<rect x="-46.00" y="649.10" width="93.01" height="13.60" fill="#ececec" />
<text x="0.50" y="660.50" font-size="12.6" text-anchor="middle" fill="#222" >Корпус: ПН-400</text>
<text x="0.50" y="674.50" font-size="12.6" text-anchor="middle" fill="#222" >400x2136x550 (ШхВхГ)</text>
<rect x="195.00" y="616.00" width="3.00" height="8.00" fill="#f4f4f4" stroke="#9a9a9a" stroke-width="0.6"/>
<rect x="246.00" y="628.00" width="3.00" height="8.00" fill="#f4f4f4" stroke="#9a9a9a" stroke-width="0.6"/>
<rect x="270.20" y="610.00" width="2.60" height="4.00" fill="#6e6e6e" />
<rect x="269.30" y="613.40" width="4.40" height="1.60" fill="#5a5a5a" />
<polygon points="187.50,389.00 216.00,370.00 280.00,381.00 252.50,400.00" fill="#767676"  stroke="#767676" stroke-width="0.5"/>
<polygon points="252.50,400.00 280.00,381.00 280.00,605.00 252.50,623.50" fill="#8f8f8f"  stroke="#8f8f8f" stroke-width="0.5"/>
<polygon points="189.00,390.00 252.50,400.00 252.50,623.00 189.00,615.00" fill="#ffffff"  stroke="#ffffff" stroke-width="0.5"/>
<polygon points="190.00,393.00 224.00,398.00 224.00,616.00 190.00,614.00" fill="#808080"  stroke="#808080" stroke-width="0.5"/>
<polygon points="190.00,430.50 224.00,413.50 224.00,432.00 190.00,430.50" fill="#6c6c6c"  stroke="#6c6c6c" stroke-width="0.5"/>
<polygon points="190.00,469.00 224.00,452.00 224.00,470.50 190.00,469.00" fill="#6c6c6c"  stroke="#6c6c6c" stroke-width="0.5"/>
<polygon points="190.00,502.00 224.00,485.00 224.00,503.50 190.00,502.00" fill="#6c6c6c"  stroke="#6c6c6c" stroke-width="0.5"/>
<polygon points="190.00,537.00 224.00,520.00 224.00,538.50 190.00,537.00" fill="#6c6c6c"  stroke="#6c6c6c" stroke-width="0.5"/>
<polygon points="190.00,574.50 224.00,557.50 224.00,576.00 190.00,574.50" fill="#6c6c6c"  stroke="#6c6c6c" stroke-width="0.5"/>
<polygon points="190.00,616.00 224.00,599.00 224.00,617.50 190.00,616.00" fill="#6c6c6c"  stroke="#6c6c6c" stroke-width="0.5"/>
<polygon points="190.00,429.70 222.50,431.30 222.50,443.50 219.50,443.50 219.50,432.90 190.00,431.30" fill="#f6f6f6"  stroke="#f6f6f6" stroke-width="0.5"/>
<line x1="219.50" y1="443.50" x2="222.50" y2="443.50" stroke="#aaa" stroke-width="0.50" />
<polygon points="190.00,468.20 222.50,469.80 222.50,482.00 219.50,482.00 219.50,471.40 190.00,469.80" fill="#f6f6f6"  stroke="#f6f6f6" stroke-width="0.5"/>
<line x1="219.50" y1="482.00" x2="222.50" y2="482.00" stroke="#aaa" stroke-width="0.50" />
<polygon points="190.00,501.20 222.50,502.80 222.50,515.00 219.50,515.00 219.50,504.40 190.00,502.80" fill="#f6f6f6"  stroke="#f6f6f6" stroke-width="0.5"/>
<line x1="219.50" y1="515.00" x2="222.50" y2="515.00" stroke="#aaa" stroke-width="0.50" />
<polygon points="190.00,536.20 222.50,537.80 222.50,550.00 219.50,550.00 219.50,539.40 190.00,537.80" fill="#f6f6f6"  stroke="#f6f6f6" stroke-width="0.5"/>
<line x1="219.50" y1="550.00" x2="222.50" y2="550.00" stroke="#aaa" stroke-width="0.50" />
<polygon points="190.00,573.70 222.50,575.30 222.50,587.50 219.50,587.50 219.50,576.90 190.00,575.30" fill="#f6f6f6"  stroke="#f6f6f6" stroke-width="0.5"/>
<line x1="219.50" y1="587.50" x2="222.50" y2="587.50" stroke="#aaa" stroke-width="0.50" />
<polygon points="217.50,397.00 252.00,401.00 224.00,409.00 217.50,409.00" fill="#ffffff"  stroke="#ffffff" stroke-width="0.5"/>
<polygon points="223.75,408.50 252.50,400.50 252.50,623.00 223.75,632.50" fill="#888888"  stroke="#888888" stroke-width="0.5"/>
<line x1="223.75" y1="485.00" x2="252.50" y2="479.00" stroke="#5e5e5e" stroke-width="1.00" />
<line x1="223.75" y1="554.70" x2="252.50" y2="548.50" stroke="#5e5e5e" stroke-width="1.00" />
<line x1="232.00" y1="483.30" x2="247.00" y2="480.00" stroke="#6a6a6a" stroke-width="0.80" />
<line x1="232.00" y1="482.50" x2="247.00" y2="479.20" stroke="#dcdcdc" stroke-width="1.10" />
<line x1="232.00" y1="551.80" x2="247.50" y2="547.60" stroke="#6a6a6a" stroke-width="0.80" />
<line x1="232.00" y1="551.00" x2="247.50" y2="546.80" stroke="#dcdcdc" stroke-width="1.10" />
<line x1="232.00" y1="559.30" x2="247.50" y2="554.30" stroke="#6a6a6a" stroke-width="0.80" />
<line x1="232.00" y1="558.50" x2="247.50" y2="553.50" stroke="#dcdcdc" stroke-width="1.10" />
<polygon points="185.80,389.00 187.60,390.50 188.60,616.00 187.60,626.00 186.30,616.00" fill="#3c3c3c"  stroke="#3c3c3c" stroke-width="0.5"/>
<line x1="183.00" y1="466.00" x2="183.00" y2="474.00" stroke="#555" stroke-width="1.00" />
<line x1="183.00" y1="536.00" x2="183.00" y2="546.00" stroke="#555" stroke-width="1.00" />
<polygon points="191.00,397.42 193.60,399.50 191.00,401.58" fill="#4a4a4a"  stroke="#4a4a4a" stroke-width="0.5"/>
<polygon points="191.00,452.92 193.60,455.00 191.00,457.08" fill="#4a4a4a"  stroke="#4a4a4a" stroke-width="0.5"/>
<polygon points="191.00,474.92 193.60,477.00 191.00,479.08" fill="#4a4a4a"  stroke="#4a4a4a" stroke-width="0.5"/>
<polygon points="191.00,520.92 193.60,523.00 191.00,525.08" fill="#4a4a4a"  stroke="#4a4a4a" stroke-width="0.5"/>
<polygon points="191.00,543.67 193.60,545.75 191.00,547.83" fill="#4a4a4a"  stroke="#4a4a4a" stroke-width="0.5"/>
<polygon points="191.00,599.92 193.60,602.00 191.00,604.08" fill="#4a4a4a"  stroke="#4a4a4a" stroke-width="0.5"/>
<line x1="204.50" y1="396.00" x2="204.50" y2="430.00" stroke="#3a3a3a" stroke-width="0.65" />
<polygon points="204.50,430.00 203.00,425.00 206.00,425.00" fill="#111"  stroke="#111" stroke-width="0.5"/>
<polygon points="204.50,396.00 206.00,401.00 203.00,401.00" fill="#111"  stroke="#111" stroke-width="0.5"/>
<text x="217.69" y="416.50" font-size="11" text-anchor="middle" fill="#1a1a1a" transform="rotate(-90.0 217.69 416.50)" >333</text>
<line x1="204.50" y1="433.00" x2="204.50" y2="466.50" stroke="#3a3a3a" stroke-width="0.65" />
<polygon points="204.50,466.50 203.00,461.50 206.00,461.50" fill="#111"  stroke="#111" stroke-width="0.5"/>
<polygon points="204.50,433.00 206.00,438.00 203.00,438.00" fill="#111"  stroke="#111" stroke-width="0.5"/>
<text x="217.69" y="452.75" font-size="11" text-anchor="middle" fill="#1a1a1a" transform="rotate(-90.0 217.69 452.75)" >334</text>
<line x1="204.50" y1="470.00" x2="204.50" y2="501.50" stroke="#3a3a3a" stroke-width="0.65" />
<polygon points="204.50,501.50 203.00,496.50 206.00,496.50" fill="#111"  stroke="#111" stroke-width="0.5"/>
<polygon points="204.50,470.00 206.00,475.00 203.00,475.00" fill="#111"  stroke="#111" stroke-width="0.5"/>
<text x="217.69" y="489.00" font-size="11" text-anchor="middle" fill="#1a1a1a" transform="rotate(-90.0 217.69 489.00)" >295</text>
<line x1="204.50" y1="505.00" x2="204.50" y2="536.50" stroke="#3a3a3a" stroke-width="0.65" />
<polygon points="204.50,536.50 203.00,531.50 206.00,531.50" fill="#111"  stroke="#111" stroke-width="0.5"/>
<polygon points="204.50,505.00 206.00,510.00 203.00,510.00" fill="#111"  stroke="#111" stroke-width="0.5"/>
<text x="217.69" y="524.50" font-size="11" text-anchor="middle" fill="#1a1a1a" transform="rotate(-90.0 217.69 524.50)" >295</text>
<line x1="204.50" y1="540.00" x2="204.50" y2="574.00" stroke="#3a3a3a" stroke-width="0.65" />
<polygon points="204.50,574.00 203.00,569.00 206.00,569.00" fill="#111"  stroke="#111" stroke-width="0.5"/>
<polygon points="204.50,540.00 206.00,545.00 203.00,545.00" fill="#111"  stroke="#111" stroke-width="0.5"/>
<text x="217.69" y="560.00" font-size="11" text-anchor="middle" fill="#1a1a1a" transform="rotate(-90.0 217.69 560.00)" >334</text>
<line x1="204.50" y1="578.00" x2="204.50" y2="616.00" stroke="#3a3a3a" stroke-width="0.65" />
<polygon points="204.50,616.00 203.00,611.00 206.00,611.00" fill="#111"  stroke="#111" stroke-width="0.5"/>
<polygon points="204.50,578.00 206.00,583.00 203.00,583.00" fill="#111"  stroke="#111" stroke-width="0.5"/>
<text x="217.69" y="598.00" font-size="11" text-anchor="middle" fill="#1a1a1a" transform="rotate(-90.0 217.69 598.00)" >333</text>
<line x1="161.00" y1="390.00" x2="186.00" y2="390.00" stroke="#8a8a8a" stroke-width="0.70" />
<line x1="161.00" y1="624.50" x2="188.00" y2="624.50" stroke="#8a8a8a" stroke-width="0.70" />
<line x1="167.00" y1="391.00" x2="167.00" y2="624.00" stroke="#8e8e8e" stroke-width="0.90" />
<polygon points="167.00,624.00 165.50,619.00 168.50,619.00" fill="#111"  stroke="#111" stroke-width="0.5"/>
<polygon points="167.00,391.00 168.50,396.00 165.50,396.00" fill="#111"  stroke="#111" stroke-width="0.5"/>
<text x="168.56" y="504.00" font-size="11" text-anchor="middle" fill="#1a1a1a" transform="rotate(90.0 168.56 504.00)" >2136</text>
<line x1="174.00" y1="369.00" x2="187.50" y2="389.00" stroke="#8a8a8a" stroke-width="0.70" />
<line x1="203.00" y1="351.00" x2="216.00" y2="370.00" stroke="#8a8a8a" stroke-width="0.70" />
<line x1="178.00" y1="375.00" x2="206.00" y2="356.00" stroke="#606060" stroke-width="0.70" />
<polygon points="206.00,356.00 202.70,360.05 201.02,357.57" fill="#111"  stroke="#111" stroke-width="0.5"/>
<polygon points="178.00,375.00 181.30,370.95 182.98,373.43" fill="#111"  stroke="#111" stroke-width="0.5"/>
<text x="190.81" y="364.19" font-size="11" text-anchor="middle" fill="#1a1a1a" transform="rotate(-36.0 190.81 364.19)" >550</text>
<line x1="216.00" y1="370.00" x2="221.00" y2="352.00" stroke="#8a8a8a" stroke-width="0.70" />
<line x1="280.00" y1="381.00" x2="283.00" y2="360.00" stroke="#8a8a8a" stroke-width="0.70" />
<line x1="221.00" y1="355.00" x2="282.00" y2="366.00" stroke="#606060" stroke-width="0.70" />
<polygon points="282.00,366.00 276.81,366.59 277.35,363.64" fill="#111"  stroke="#111" stroke-width="0.5"/>
<polygon points="221.00,355.00 226.19,354.41 225.65,357.36" fill="#111"  stroke="#111" stroke-width="0.5"/>
<text x="253.72" y="358.63" font-size="11" text-anchor="middle" fill="#1a1a1a" transform="rotate(10.0 253.72 358.63)" >600</text>
<rect x="300.00" y="635.00" width="3.00" height="8.00" fill="#f4f4f4" stroke="#9a9a9a" stroke-width="0.6"/>
<rect x="351.00" y="645.00" width="3.00" height="8.00" fill="#f4f4f4" stroke="#9a9a9a" stroke-width="0.6"/>
<rect x="375.20" y="630.00" width="2.60" height="4.00" fill="#6e6e6e" />
<rect x="374.30" y="633.40" width="4.40" height="1.60" fill="#5a5a5a" />
<polygon points="292.50,410.50 322.50,388.50 384.70,400.00 355.00,422.00" fill="#767676"  stroke="#767676" stroke-width="0.5"/>
<polygon points="292.50,410.50 355.00,422.00 355.00,644.50 292.50,634.50" fill="#999999"  stroke="#999999" stroke-width="0.5"/>
<polygon points="355.00,422.00 384.70,400.00 384.70,623.00 355.00,644.50" fill="#8e8e8e"  stroke="#8e8e8e" stroke-width="0.5"/>
<line x1="355.30" y1="422.00" x2="355.30" y2="644.50" stroke="#7a7a7a" stroke-width="1.20" />
<line x1="323.00" y1="416.00" x2="323.00" y2="639.50" stroke="#666" stroke-width="1.00" />
<line x1="292.50" y1="487.50" x2="355.00" y2="497.00" stroke="#5e5e5e" stroke-width="1.00" />
<line x1="292.50" y1="556.60" x2="355.00" y2="566.60" stroke="#5e5e5e" stroke-width="1.00" />
<line x1="297.50" y1="487.80" x2="312.50" y2="490.00" stroke="#6a6a6a" stroke-width="0.80" />
<line x1="297.50" y1="487.00" x2="312.50" y2="489.20" stroke="#dcdcdc" stroke-width="1.10" />
<line x1="329.00" y1="493.30" x2="345.00" y2="495.80" stroke="#6a6a6a" stroke-width="0.80" />
<line x1="329.00" y1="492.50" x2="345.00" y2="495.00" stroke="#dcdcdc" stroke-width="1.10" />
<line x1="297.50" y1="556.30" x2="312.50" y2="558.50" stroke="#6a6a6a" stroke-width="0.80" />
<line x1="297.50" y1="555.50" x2="312.50" y2="557.70" stroke="#dcdcdc" stroke-width="1.10" />
<line x1="329.00" y1="562.30" x2="345.00" y2="564.80" stroke="#6a6a6a" stroke-width="0.80" />
<line x1="329.00" y1="561.50" x2="345.00" y2="564.00" stroke="#dcdcdc" stroke-width="1.10" />
<line x1="299.00" y1="564.30" x2="314.00" y2="566.50" stroke="#6a6a6a" stroke-width="0.80" />
<line x1="299.00" y1="563.50" x2="314.00" y2="565.70" stroke="#dcdcdc" stroke-width="1.10" />
<line x1="329.00" y1="569.80" x2="345.00" y2="572.30" stroke="#6a6a6a" stroke-width="0.80" />
<line x1="329.00" y1="569.00" x2="345.00" y2="571.50" stroke="#dcdcdc" stroke-width="1.10" />
<rect x="224.50" y="651.60" width="93.01" height="13.60" fill="#ececec" />
<text x="271.00" y="663.00" font-size="12.6" text-anchor="middle" fill="#222" >Корпус: ПН-600</text>
<text x="271.00" y="677.00" font-size="12.6" text-anchor="middle" fill="#222" >600x2136x550 (ШхВхГ)</text>
<rect x="526.00" y="624.00" width="3.00" height="8.00" fill="#f4f4f4" stroke="#9a9a9a" stroke-width="0.6"/>
<rect x="582.00" y="630.00" width="3.00" height="8.00" fill="#f4f4f4" stroke="#9a9a9a" stroke-width="0.6"/>
<rect x="601.20" y="616.00" width="2.60" height="4.00" fill="#6e6e6e" />
<rect x="600.30" y="619.40" width="4.40" height="1.60" fill="#5a5a5a" />
<polygon points="518.75,383.50 541.00,362.00 612.00,370.00 589.60,392.00" fill="#7a7a7a"  stroke="#7a7a7a" stroke-width="0.5"/>
<polygon points="589.60,392.00 612.00,370.00 612.00,606.50 589.60,628.50" fill="#737473"  stroke="#737473" stroke-width="0.5"/>
<polygon points="520.00,385.00 589.60,392.00 589.60,628.00 520.00,624.00" fill="#ffffff"  stroke="#ffffff" stroke-width="0.5"/>
<polygon points="520.00,386.00 543.50,389.00 543.50,623.00 520.00,621.00" fill="#808080"  stroke="#808080" stroke-width="0.5"/>
<polygon points="543.50,403.50 563.00,403.50 563.00,428.00 543.50,427.00" fill="#7f7f7f"  stroke="#7f7f7f" stroke-width="0.5"/>
<polygon points="543.50,446.00 563.00,446.00 563.00,468.00 543.50,467.00" fill="#7f7f7f"  stroke="#7f7f7f" stroke-width="0.5"/>
<polygon points="543.50,517.00 586.80,517.50 586.80,545.00 543.50,540.00" fill="#6c6c6c"  stroke="#6c6c6c" stroke-width="0.5"/>
<polygon points="543.50,558.00 563.00,558.00 563.00,583.00 543.50,581.00" fill="#7f7f7f"  stroke="#7f7f7f" stroke-width="0.5"/>
<polygon points="543.50,599.50 563.00,599.50 563.00,626.00 543.50,624.50" fill="#7f7f7f"  stroke="#7f7f7f" stroke-width="0.5"/>
<polygon points="520.00,426.50 549.00,428.50 549.00,430.50 520.00,428.50" fill="#f6f6f6"  stroke="#f6f6f6" stroke-width="0.5"/>
<polygon points="520.00,466.00 549.00,468.00 549.00,470.00 520.00,468.00" fill="#f6f6f6"  stroke="#f6f6f6" stroke-width="0.5"/>
<polygon points="520.00,538.00 549.00,540.00 549.00,542.00 520.00,540.00" fill="#f6f6f6"  stroke="#f6f6f6" stroke-width="0.5"/>
<polygon points="520.00,579.50 549.00,581.50 549.00,583.50 520.00,581.50" fill="#f6f6f6"  stroke="#f6f6f6" stroke-width="0.5"/>
<polygon points="520.00,538.50 587.00,545.50 587.00,548.00 520.00,540.50" fill="#fafafa"  stroke="#fafafa" stroke-width="0.5"/>
<polygon points="520.00,466.00 563.00,470.00 563.00,472.00 520.00,468.00" fill="#fafafa"  stroke="#fafafa" stroke-width="0.5"/>
<polygon points="562.50,403.00 589.60,393.00 589.60,474.75 562.50,483.50" fill="#7f807f"  stroke="#7f807f" stroke-width="0.5"/>
<polygon points="562.70,558.50 589.60,550.50 589.60,629.70 562.70,639.50" fill="#7f807f"  stroke="#7f807f" stroke-width="0.5"/>
<line x1="570.00" y1="479.30" x2="585.00" y2="474.30" stroke="#6a6a6a" stroke-width="0.80" />
<line x1="570.00" y1="478.50" x2="585.00" y2="473.50" stroke="#dcdcdc" stroke-width="1.10" />
<line x1="570.00" y1="559.80" x2="585.00" y2="554.80" stroke="#6a6a6a" stroke-width="0.80" />
<line x1="570.00" y1="559.00" x2="585.00" y2="554.00" stroke="#dcdcdc" stroke-width="1.10" />
<polygon points="522.00,391.92 524.60,394.00 522.00,396.08" fill="#4a4a4a"  stroke="#4a4a4a" stroke-width="0.5"/>
<polygon points="522.00,447.67 524.60,449.75 522.00,451.83" fill="#4a4a4a"  stroke="#4a4a4a" stroke-width="0.5"/>
<polygon points="522.00,548.92 524.60,551.00 522.00,553.08" fill="#4a4a4a"  stroke="#4a4a4a" stroke-width="0.5"/>
<polygon points="522.00,607.42 524.60,609.50 522.00,611.58" fill="#4a4a4a"  stroke="#4a4a4a" stroke-width="0.5"/>
<line x1="515.40" y1="466.00" x2="516.60" y2="477.00" stroke="#3a3a3a" stroke-width="1.30" />
<line x1="515.60" y1="540.00" x2="517.00" y2="551.00" stroke="#3a3a3a" stroke-width="1.30" />
<polygon points="517.00,383.50 520.00,385.00 520.50,466.00 519.50,479.00 517.50,466.00" fill="#1c1c1c"  stroke="#1c1c1c" stroke-width="0.5"/>
<polygon points="517.00,539.50 520.00,541.00 521.50,620.00 520.50,633.00 518.00,620.00" fill="#1c1c1c"  stroke="#1c1c1c" stroke-width="0.5"/>
<line x1="544.50" y1="389.00" x2="544.50" y2="427.00" stroke="#3a3a3a" stroke-width="0.65" />
<polygon points="544.50,427.00 543.00,422.00 546.00,422.00" fill="#111"  stroke="#111" stroke-width="0.5"/>
<polygon points="544.50,389.00 546.00,394.00 543.00,394.00" fill="#111"  stroke="#111" stroke-width="0.5"/>
<text x="540.19" y="408.50" font-size="11" text-anchor="middle" fill="#1a1a1a" transform="rotate(-90.0 540.19 408.50)" >337</text>
<line x1="544.50" y1="431.00" x2="544.50" y2="467.00" stroke="#3a3a3a" stroke-width="0.65" />
<polygon points="544.50,467.00 543.00,462.00 546.00,462.00" fill="#111"  stroke="#111" stroke-width="0.5"/>
<polygon points="544.50,431.00 546.00,436.00 543.00,436.00" fill="#111"  stroke="#111" stroke-width="0.5"/>
<text x="540.19" y="449.00" font-size="11" text-anchor="middle" fill="#1a1a1a" transform="rotate(-90.0 540.19 449.00)" >332</text>
<line x1="544.50" y1="470.00" x2="544.50" y2="539.00" stroke="#3a3a3a" stroke-width="0.65" />
<polygon points="544.50,539.00 543.00,534.00 546.00,534.00" fill="#111"  stroke="#111" stroke-width="0.5"/>
<polygon points="544.50,470.00 546.00,475.00 543.00,475.00" fill="#111"  stroke="#111" stroke-width="0.5"/>
<text x="554.44" y="504.00" font-size="11" text-anchor="middle" fill="#1a1a1a" transform="rotate(-90.0 554.44 504.00)" >602</text>
<line x1="544.50" y1="543.00" x2="544.50" y2="581.00" stroke="#3a3a3a" stroke-width="0.65" />
<polygon points="544.50,581.00 543.00,576.00 546.00,576.00" fill="#111"  stroke="#111" stroke-width="0.5"/>
<polygon points="544.50,543.00 546.00,548.00 543.00,548.00" fill="#111"  stroke="#111" stroke-width="0.5"/>
<text x="555.69" y="566.25" font-size="11" text-anchor="middle" fill="#1a1a1a" transform="rotate(-90.0 555.69 566.25)" >337</text>
<line x1="544.50" y1="584.50" x2="544.50" y2="624.50" stroke="#3a3a3a" stroke-width="0.65" />
<polygon points="544.50,624.50 543.00,619.50 546.00,619.50" fill="#111"  stroke="#111" stroke-width="0.5"/>
<polygon points="544.50,584.50 546.00,589.50 543.00,589.50" fill="#111"  stroke="#111" stroke-width="0.5"/>
<text x="556.14" y="608.00" font-size="11" text-anchor="middle" fill="#1a1a1a" transform="rotate(-90.0 556.14 608.00)" >332</text>
<line x1="611.00" y1="370.00" x2="631.00" y2="370.00" stroke="#8a8a8a" stroke-width="0.70" />
<line x1="612.00" y1="619.50" x2="631.00" y2="619.50" stroke="#8a8a8a" stroke-width="0.70" />
<line x1="624.50" y1="371.00" x2="624.50" y2="619.00" stroke="#8e8e8e" stroke-width="0.90" />
<polygon points="624.50,619.00 623.00,614.00 626.00,614.00" fill="#111"  stroke="#111" stroke-width="0.5"/>
<polygon points="624.50,371.00 626.00,376.00 623.00,376.00" fill="#111"  stroke="#111" stroke-width="0.5"/>
<text x="614.81" y="506.50" font-size="11" text-anchor="middle" fill="#1a1a1a" transform="rotate(90.0 614.81 506.50)" >2136</text>
<line x1="505.00" y1="365.00" x2="518.75" y2="383.50" stroke="#8a8a8a" stroke-width="0.70" />
<line x1="528.00" y1="344.00" x2="541.00" y2="362.00" stroke="#8a8a8a" stroke-width="0.70" />
<line x1="507.00" y1="368.00" x2="529.00" y2="348.00" stroke="#606060" stroke-width="0.70" />
<polygon points="529.00,348.00 526.31,352.47 524.29,350.25" fill="#111"  stroke="#111" stroke-width="0.5"/>
<polygon points="507.00,368.00 509.69,363.53 511.71,365.75" fill="#111"  stroke="#111" stroke-width="0.5"/>
<text x="514.08" y="357.47" font-size="11" text-anchor="middle" fill="#1a1a1a" transform="rotate(-41.0 514.08 357.47)" >550</text>
<line x1="541.00" y1="362.00" x2="544.00" y2="340.00" stroke="#8a8a8a" stroke-width="0.70" />
<line x1="611.00" y1="370.00" x2="615.00" y2="347.00" stroke="#8a8a8a" stroke-width="0.70" />
<line x1="544.00" y1="344.00" x2="614.00" y2="353.00" stroke="#606060" stroke-width="0.70" />
<polygon points="614.00,353.00 608.85,353.85 609.23,350.87" fill="#111"  stroke="#111" stroke-width="0.5"/>
<polygon points="544.00,344.00 549.15,343.15 548.77,346.13" fill="#111"  stroke="#111" stroke-width="0.5"/>
<text x="578.77" y="346.41" font-size="11" text-anchor="middle" fill="#1a1a1a" transform="rotate(7.0 578.77 346.41)" >600</text>
<rect x="643.00" y="637.00" width="3.00" height="9.00" fill="#f4f4f4" stroke="#9a9a9a" stroke-width="0.6"/>
<rect x="699.00" y="645.00" width="3.00" height="8.00" fill="#f4f4f4" stroke="#9a9a9a" stroke-width="0.6"/>
<rect x="718.20" y="632.00" width="2.60" height="3.00" fill="#6e6e6e" />
<rect x="717.30" y="634.40" width="4.40" height="1.60" fill="#5a5a5a" />
<polygon points="635.00,400.30 659.00,377.40 728.90,386.00 705.00,408.50" fill="#7a7a7a"  stroke="#7a7a7a" stroke-width="0.5"/>
<polygon points="705.00,408.50 728.90,386.00 728.90,622.50 705.00,644.90" fill="#737473"  stroke="#737473" stroke-width="0.5"/>
<polygon points="635.00,399.75 705.00,408.50 705.00,644.50 635.00,635.75" fill="#ffffff"  stroke="#ffffff" stroke-width="0.5"/>
<polygon points="635.00,399.75 705.00,408.50 705.00,488.50 635.00,481.00" fill="#a0a0a0"  stroke="#a0a0a0" stroke-width="0.5"/>
<line x1="669.50" y1="404.00" x2="669.50" y2="485.00" stroke="#666" stroke-width="1.00" />
<line x1="642.50" y1="480.30" x2="658.75" y2="482.00" stroke="#6a6a6a" stroke-width="0.80" />
<line x1="642.50" y1="479.50" x2="658.75" y2="481.20" stroke="#dcdcdc" stroke-width="1.10" />
<line x1="677.50" y1="484.30" x2="693.75" y2="486.30" stroke="#6a6a6a" stroke-width="0.80" />
<line x1="677.50" y1="483.50" x2="693.75" y2="485.50" stroke="#dcdcdc" stroke-width="1.10" />
<polygon points="637.50,481.00 661.00,484.00 661.00,531.70 637.50,553.50" fill="#757575"  stroke="#757575" stroke-width="0.5"/>
<polygon points="637.50,553.50 661.00,531.70 703.40,537.00 703.40,560.30" fill="#6b6b6b"  stroke="#6b6b6b" stroke-width="0.5"/>
<polygon points="635.00,554.50 705.00,562.50 705.00,644.50 635.00,635.75" fill="#a0a0a0"  stroke="#a0a0a0" stroke-width="0.5"/>
<line x1="669.50" y1="558.50" x2="669.50" y2="640.50" stroke="#666" stroke-width="1.00" />
<line x1="635.00" y1="554.00" x2="705.00" y2="562.00" stroke="#f2f2f2" stroke-width="1.20" />
<line x1="642.50" y1="560.30" x2="660.00" y2="562.30" stroke="#6a6a6a" stroke-width="0.80" />
<line x1="642.50" y1="559.50" x2="660.00" y2="561.50" stroke="#dcdcdc" stroke-width="1.10" />
<line x1="676.00" y1="564.30" x2="695.00" y2="566.30" stroke="#6a6a6a" stroke-width="0.80" />
<line x1="676.00" y1="563.50" x2="695.00" y2="565.50" stroke="#dcdcdc" stroke-width="1.10" />
<rect x="554.22" y="651.60" width="99.56" height="13.60" fill="#ececec" />
<text x="604.00" y="663.00" font-size="12.6" text-anchor="middle" fill="#222" >Корпус:ШВД-600</text>
<text x="604.00" y="677.00" font-size="12.6" text-anchor="middle" fill="#222" >600x2136x550 (ШхВхГ)</text>
<rect x="849.00" y="637.00" width="3.00" height="9.00" fill="#f4f4f4" stroke="#9a9a9a" stroke-width="0.6"/>
<rect x="869.20" y="625.00" width="2.60" height="3.00" fill="#6e6e6e" />
<rect x="868.30" y="627.40" width="4.40" height="1.60" fill="#5a5a5a" />
<polygon points="808.75,393.00 832.50,371.00 878.90,376.00 856.00,398.50" fill="#7a7a7a"  stroke="#7a7a7a" stroke-width="0.5"/>
<polygon points="855.70,398.50 878.90,376.00 878.90,616.10 855.70,637.80" fill="#737473"  stroke="#737473" stroke-width="0.5"/>
<polygon points="810.00,394.00 856.00,398.50 856.00,637.00 810.00,632.00" fill="#ffffff"  stroke="#ffffff" stroke-width="0.5"/>
<polygon points="811.00,396.00 834.00,398.00 834.00,551.00 811.00,550.00" fill="#808080"  stroke="#808080" stroke-width="0.5"/>
<polygon points="834.00,413.50 853.10,415.90 853.10,438.50 834.00,437.00" fill="#7f7f7f"  stroke="#7f7f7f" stroke-width="0.5"/>
<polygon points="834.00,453.40 853.10,455.80 853.10,480.00 834.00,478.50" fill="#7f7f7f"  stroke="#7f7f7f" stroke-width="0.5"/>
<polygon points="834.00,488.50 853.10,490.90 853.10,514.50 834.00,513.00" fill="#7f7f7f"  stroke="#7f7f7f" stroke-width="0.5"/>
<polygon points="834.00,526.00 853.10,528.40 853.10,551.50 834.00,550.00" fill="#7f7f7f"  stroke="#7f7f7f" stroke-width="0.5"/>
<polygon points="811.00,436.00 853.00,438.50 853.00,440.50 811.00,438.00" fill="#f6f6f6"  stroke="#f6f6f6" stroke-width="0.5"/>
<polygon points="811.00,477.50 853.00,480.00 853.00,482.00 811.00,479.50" fill="#f6f6f6"  stroke="#f6f6f6" stroke-width="0.5"/>
<polygon points="811.00,512.00 853.00,514.50 853.00,516.50 811.00,514.00" fill="#f6f6f6"  stroke="#f6f6f6" stroke-width="0.5"/>
<polygon points="811.00,549.00 853.00,551.50 853.00,553.50 811.00,551.00" fill="#f6f6f6"  stroke="#f6f6f6" stroke-width="0.5"/>
<rect x="810.00" y="550.50" width="10.00" height="11.00" fill="#7c7c7c" />
<polygon points="844.40,586.20 853.20,582.60 853.20,595.50 844.40,602.40" fill="#5a5a5a"  stroke="#5a5a5a" stroke-width="0.5"/>
<polygon points="844.40,622.40 853.20,618.90 853.20,633.20 844.40,638.60" fill="#5a5a5a"  stroke="#5a5a5a" stroke-width="0.5"/>
<polygon points="797.60,560.20 844.00,565.00 844.00,648.50 797.60,642.50" fill="#8c8c8c"  stroke="#8c8c8c" stroke-width="0.5"/>
<line x1="797.60" y1="560.20" x2="844.00" y2="565.00" stroke="#e6e6e6" stroke-width="0.80" />
<line x1="810.00" y1="567.30" x2="827.50" y2="569.10" stroke="#6a6a6a" stroke-width="0.80" />
<line x1="810.00" y1="566.50" x2="827.50" y2="568.30" stroke="#dcdcdc" stroke-width="1.10" />
<polygon points="812.30,400.92 814.90,403.00 812.30,405.08" fill="#4a4a4a"  stroke="#4a4a4a" stroke-width="0.5"/>
<polygon points="812.60,459.92 815.20,462.00 812.60,464.08" fill="#4a4a4a"  stroke="#4a4a4a" stroke-width="0.5"/>
<line x1="805.60" y1="478.00" x2="806.60" y2="488.00" stroke="#3a3a3a" stroke-width="1.20" />
<polygon points="807.00,393.00 810.00,395.00 810.50,480.00 809.50,492.00 807.50,480.00" fill="#1c1c1c"  stroke="#1c1c1c" stroke-width="0.5"/>
<line x1="835.50" y1="400.00" x2="835.50" y2="437.00" stroke="#3a3a3a" stroke-width="0.65" />
<polygon points="835.50,437.00 834.00,432.00 837.00,432.00" fill="#111"  stroke="#111" stroke-width="0.5"/>
<polygon points="835.50,400.00 837.00,405.00 834.00,405.00" fill="#111"  stroke="#111" stroke-width="0.5"/>
<text x="848.19" y="423.50" font-size="11" text-anchor="middle" fill="#1a1a1a" transform="rotate(-90.0 848.19 423.50)" >337</text>
<line x1="835.50" y1="441.00" x2="835.50" y2="478.50" stroke="#3a3a3a" stroke-width="0.65" />
<polygon points="835.50,478.50 834.00,473.50 837.00,473.50" fill="#111"  stroke="#111" stroke-width="0.5"/>
<polygon points="835.50,441.00 837.00,446.00 834.00,446.00" fill="#111"  stroke="#111" stroke-width="0.5"/>
<text x="848.19" y="464.75" font-size="11" text-anchor="middle" fill="#1a1a1a" transform="rotate(-90.0 848.19 464.75)" >336</text>
<line x1="835.50" y1="482.00" x2="835.50" y2="513.00" stroke="#3a3a3a" stroke-width="0.65" />
<polygon points="835.50,513.00 834.00,508.00 837.00,508.00" fill="#111"  stroke="#111" stroke-width="0.5"/>
<polygon points="835.50,482.00 837.00,487.00 834.00,487.00" fill="#111"  stroke="#111" stroke-width="0.5"/>
<text x="848.19" y="499.50" font-size="11" text-anchor="middle" fill="#1a1a1a" transform="rotate(-90.0 848.19 499.50)" >289</text>
<line x1="835.50" y1="517.00" x2="835.50" y2="550.00" stroke="#3a3a3a" stroke-width="0.65" />
<polygon points="835.50,550.00 834.00,545.00 837.00,545.00" fill="#111"  stroke="#111" stroke-width="0.5"/>
<polygon points="835.50,517.00 837.00,522.00 834.00,522.00" fill="#111"  stroke="#111" stroke-width="0.5"/>
<text x="848.19" y="539.00" font-size="11" text-anchor="middle" fill="#1a1a1a" transform="rotate(-90.0 848.19 539.00)" >289</text>
<line x1="878.75" y1="376.00" x2="899.00" y2="376.00" stroke="#8a8a8a" stroke-width="0.70" />
<line x1="880.00" y1="629.50" x2="899.00" y2="629.50" stroke="#8a8a8a" stroke-width="0.70" />
<line x1="892.00" y1="377.00" x2="892.00" y2="629.00" stroke="#8e8e8e" stroke-width="0.90" />
<polygon points="892.00,629.00 890.50,624.00 893.50,624.00" fill="#111"  stroke="#111" stroke-width="0.5"/>
<polygon points="892.00,377.00 893.50,382.00 890.50,382.00" fill="#111"  stroke="#111" stroke-width="0.5"/>
<text x="890.19" y="512.00" font-size="11" text-anchor="middle" fill="#1a1a1a" transform="rotate(-90.0 890.19 512.00)" >2136</text>
<line x1="795.00" y1="377.00" x2="808.75" y2="393.00" stroke="#8a8a8a" stroke-width="0.70" />
<line x1="819.00" y1="356.00" x2="832.50" y2="371.00" stroke="#8a8a8a" stroke-width="0.70" />
<line x1="798.75" y1="382.25" x2="820.75" y2="361.00" stroke="#606060" stroke-width="0.70" />
<polygon points="820.75,361.00 818.20,365.55 816.11,363.39" fill="#111"  stroke="#111" stroke-width="0.5"/>
<polygon points="798.75,382.25 801.30,377.70 803.39,379.86" fill="#111"  stroke="#111" stroke-width="0.5"/>
<text x="808.64" y="371.13" font-size="11" text-anchor="middle" fill="#1a1a1a" transform="rotate(-42.0 808.64 371.13)" >550</text>
<line x1="831.20" y1="370.00" x2="833.80" y2="353.80" stroke="#8a8a8a" stroke-width="0.70" />
<line x1="879.20" y1="376.00" x2="881.80" y2="359.20" stroke="#8a8a8a" stroke-width="0.70" />
<line x1="833.60" y1="359.80" x2="880.40" y2="365.40" stroke="#606060" stroke-width="0.70" />
<polygon points="880.40,365.40 875.26,366.30 875.61,363.32" fill="#111"  stroke="#111" stroke-width="0.5"/>
<polygon points="833.60,359.80 838.74,358.90 838.39,361.88" fill="#111"  stroke="#111" stroke-width="0.5"/>
<text x="855.77" y="360.16" font-size="11" text-anchor="middle" fill="#1a1a1a" transform="rotate(7.0 855.77 360.16)" >400</text>
<rect x="910.00" y="646.00" width="3.00" height="8.00" fill="#f4f4f4" stroke="#9a9a9a" stroke-width="0.6"/>
<rect x="943.00" y="652.00" width="3.00" height="7.00" fill="#f4f4f4" stroke="#9a9a9a" stroke-width="0.6"/>
<rect x="964.20" y="636.00" width="2.60" height="4.00" fill="#6e6e6e" />
<rect x="963.30" y="639.40" width="4.40" height="1.60" fill="#5a5a5a" />
<polygon points="902.00,406.00 925.00,383.50 972.80,389.75 949.00,412.25" fill="#7a7a7a"  stroke="#7a7a7a" stroke-width="0.5"/>
<polygon points="949.00,412.25 972.80,389.75 972.80,627.00 949.00,649.50" fill="#737473"  stroke="#737473" stroke-width="0.5"/>
<polygon points="902.00,406.00 949.20,412.25 949.20,649.50 902.00,644.00" fill="#ffffff"  stroke="#ffffff" stroke-width="0.5"/>
<polygon points="902.00,406.00 949.20,412.25 949.20,494.00 902.00,489.00" fill="#a0a0a0"  stroke="#a0a0a0" stroke-width="0.5"/>
<line x1="914.60" y1="487.80" x2="933.50" y2="490.10" stroke="#6a6a6a" stroke-width="0.80" />
<line x1="914.60" y1="487.00" x2="933.50" y2="489.30" stroke="#dcdcdc" stroke-width="1.10" />
<polygon points="904.40,490.50 948.30,495.50 948.30,530.00 904.40,525.00" fill="#7f7f7f"  stroke="#7f7f7f" stroke-width="0.5"/>
<polygon points="927.80,493.00 948.30,495.50 948.30,504.50 927.80,502.00" fill="#ffffff"  stroke="#ffffff" stroke-width="0.5"/>
<polygon points="904.40,525.00 927.80,502.00 948.30,504.50 948.30,530.00" fill="#767676"  stroke="#767676" stroke-width="0.5"/>
<polygon points="904.40,526.60 948.30,532.00 948.30,565.20 904.40,560.30" fill="#7f7f7f"  stroke="#7f7f7f" stroke-width="0.5"/>
<polygon points="927.80,529.50 948.30,532.00 948.30,540.60 927.80,537.30" fill="#ffffff"  stroke="#ffffff" stroke-width="0.5"/>
<polygon points="904.40,560.30 927.80,537.30 948.30,540.60 948.30,565.20" fill="#767676"  stroke="#767676" stroke-width="0.5"/>
<polygon points="902.00,562.00 949.20,567.70 949.20,649.50 902.00,644.00" fill="#a0a0a0"  stroke="#a0a0a0" stroke-width="0.5"/>
<line x1="914.60" y1="568.80" x2="932.70" y2="570.80" stroke="#6a6a6a" stroke-width="0.80" />
<line x1="914.60" y1="568.00" x2="932.70" y2="570.00" stroke="#dcdcdc" stroke-width="1.10" />
<rect x="810.42" y="651.60" width="91.17" height="13.60" fill="#ececec" />
<text x="856.00" y="663.00" font-size="12.6" text-anchor="middle" fill="#222" >Корпус:ШБ-400</text>
<text x="856.00" y="677.00" font-size="12.6" text-anchor="middle" fill="#222" >400x2136x550 (ШхВхГ)</text>
</svg>
</body></html>
